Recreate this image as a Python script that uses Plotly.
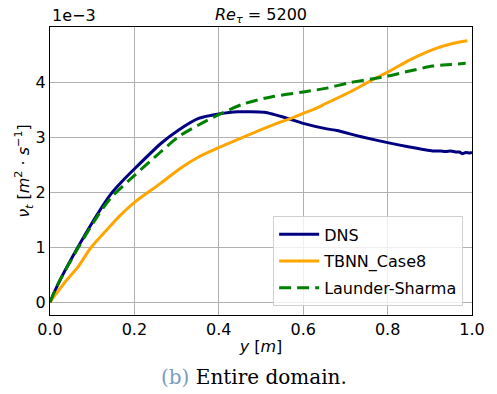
import plotly.graph_objects as go

# Wall-normal coordinate and eddy viscosity (values in units of 1e-3 m^2/s)
y_dns = [0, 0.0117, 0.0235, 0.066, 0.113, 0.1446, 0.17, 0.201, 0.262, 0.305,
         0.352, 0.4, 0.445, 0.508, 0.563, 0.6, 0.656, 0.68, 0.735, 0.8,
         0.852, 0.907, 0.925, 0.938, 0.95, 0.961, 0.97, 0.977, 0.985, 0.995, 1.0]
nut_dns = [0, 0.21, 0.40, 1.0, 1.61, 1.97, 2.19, 2.43, 2.88, 3.13,
           3.34, 3.42, 3.46, 3.45, 3.34, 3.25, 3.15, 3.12, 3.01, 2.90,
           2.82, 2.75, 2.75, 2.74, 2.75, 2.73, 2.73, 2.70, 2.72, 2.71, 2.72]

y_tbnn = [0, 0.0117, 0.027, 0.039, 0.066, 0.0977, 0.1446, 0.164, 0.201, 0.262,
          0.31, 0.352, 0.4, 0.461, 0.524, 0.571, 0.6, 0.633, 0.656, 0.711,
          0.766, 0.8, 0.852, 0.907, 0.954, 0.989]
nut_tbnn = [0, 0.13, 0.28, 0.40, 0.64, 1.0, 1.40, 1.56, 1.82, 2.16,
            2.44, 2.64, 2.81, 3.01, 3.21, 3.34, 3.43, 3.53, 3.62, 3.82,
            4.05, 4.18, 4.40, 4.59, 4.70, 4.75]

y_ls = [0, 0.0117, 0.0235, 0.066, 0.113, 0.1446, 0.201, 0.262, 0.305, 0.352,
        0.4, 0.461, 0.524, 0.6, 0.656, 0.711, 0.766, 0.8, 0.852, 0.907,
        0.95, 0.985]
nut_ls = [0, 0.21, 0.40, 0.98, 1.57, 1.90, 2.31, 2.73, 3.01, 3.22,
          3.41, 3.61, 3.73, 3.82, 3.89, 3.99, 4.06, 4.11, 4.2, 4.29,
          4.32, 4.34]

x_ticks = [0.0, 0.2, 0.4, 0.6, 0.8, 1.0]
y_ticks = [0, 1, 2, 3, 4]

FONT = "DejaVu Sans"

fig = go.Figure()
fig.add_trace(go.Scatter(x=y_dns, y=nut_dns, mode="lines", name="DNS",
                         legendgroup="dns",
                         line=dict(color="#000080", width=3, shape="spline",
                                   smoothing=0.5)))
fig.add_trace(go.Scatter(x=y_tbnn, y=nut_tbnn, mode="lines", name="TBNN_Case8",
                         legendgroup="tbnn",
                         line=dict(color="#FFA500", width=3, shape="spline",
                                   smoothing=0.8)))
fig.add_trace(go.Scatter(x=y_ls, y=nut_ls, mode="lines", name="Launder-Sharma",
                         legendgroup="ls",
                         line=dict(color="#008000", width=3, dash="12px,6px",
                                   shape="spline", smoothing=0.8)))

axis_common = dict(showgrid=True, gridcolor="#b0b0b0", gridwidth=1,
                   showline=True, linecolor="black", linewidth=1.2, mirror=True,
                   ticks="", zeroline=False,
                   tickfont=dict(family=FONT, size=16, color="black"))

fig.update_xaxes(range=[0, 1], tickvals=x_ticks,
                 ticktext=[f"{v:.1f}" for v in x_ticks],
                 title=dict(text="<i>y</i> [<i>m</i>]", standoff=2,
                            font=dict(family=FONT, size=16, color="black")),
                 **axis_common)
fig.update_yaxes(range=[-0.23, 5.0], tickvals=y_ticks,
                 ticktext=[str(v) for v in y_ticks],
                 title=dict(text="<i>ν<sub>t</sub></i> [<i>m</i><sup>2</sup> · <i>s</i><sup>−1</sup>]",
                            standoff=0,
                            font=dict(family=FONT, size=16, color="black")),
                 **axis_common)

fig.update_layout(
    width=497, height=394,
    margin=dict(l=50, r=21, t=27, b=79),
    paper_bgcolor="white", plot_bgcolor="white",
    font=dict(family=FONT, size=16, color="black"),
    showlegend=True,
    legend=dict(x=0.979, y=0.03, xanchor="right", yanchor="bottom",
                bgcolor="rgba(255,255,255,0.8)", bordercolor="#d0d0d0",
                borderwidth=1, font=dict(family=FONT, size=16, color="black"),
                itemwidth=40, tracegroupgap=3),
    annotations=[
        dict(text="<i>Re</i><sub><i>τ</i></sub> = 5200", xref="paper", yref="paper",
             x=0.5, y=1.0, xanchor="center", yanchor="bottom", yshift=-1,
             showarrow=False, font=dict(family=FONT, size=16, color="black")),
        dict(text="1e−3", xref="paper", yref="paper", x=0, y=1.0,
             xanchor="left", yanchor="bottom", showarrow=False,
             font=dict(family=FONT, size=16, color="black")),
        dict(text="<span style='color:#7b9bbd'>(b)</span> Entire domain.",
             xref="paper", yref="paper", x=0.483, y=-0.215,
             xanchor="center", yanchor="middle", showarrow=False,
             font=dict(family="DejaVu Serif", size=20, color="black")),
    ],
)

fig.write_html("out.html")
